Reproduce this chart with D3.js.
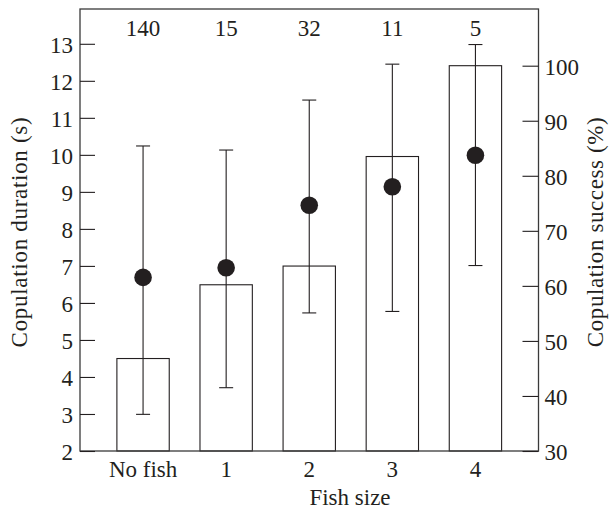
<!DOCTYPE html>
<html>
<head>
<meta charset="utf-8">
<script src="https://cdn.jsdelivr.net/npm/d3@7"></script>
<style>
  html, body { margin: 0; padding: 0; background: #fff; }
  svg { display: block; }
</style>
</head>
<body>
<svg id="chart" width="610" height="511"></svg>
<script>
// Data
const categories = ["No fish", "1", "2", "3", "4"];
const sampleSizes = [140, 15, 32, 11, 5];
const successPct = [46.8, 60.2, 63.6, 83.5, 100];        // bars, right axis
const durationMean = [6.69, 6.95, 8.64, 9.14, 9.99];     // dots, left axis
const durationLow = [2.99, 3.71, 5.73, 5.77, 7.01];
const durationHigh = [10.24, 10.13, 11.48, 12.45, 12.98];
const leftTicks = [2, 3, 4, 5, 6, 7, 8, 9, 10, 11, 12, 13];
const rightTicks = [30, 40, 50, 60, 70, 80, 90, 100];

const W = 610, H = 511;
const margin = { top: 9, right: 71.5, bottom: 60, left: 80 };
const w = W - margin.left - margin.right;
const h = H - margin.top - margin.bottom;
const ink = "#231f20";
const font = "'Liberation Serif', 'Times New Roman', serif";
const fs = 23;

const svg = d3.select("#chart");
const g = svg.append("g").attr("transform", `translate(${margin.left},${margin.top})`);

const x = d3.scaleBand().domain(categories).range([0, w]).paddingInner(0.37).paddingOuter(0.444);
const yL = d3.scaleLinear().domain([2, 13.94]).range([h, 0]);
const yR = d3.scaleLinear().domain([30, 110.3]).range([h, 0]);

// Bars
g.selectAll("rect.bar").data(categories).join("rect")
  .attr("class", "bar")
  .attr("x", d => x(d))
  .attr("width", x.bandwidth())
  .attr("y", (d, i) => yR(successPct[i]))
  .attr("height", (d, i) => h - yR(successPct[i]))
  .attr("fill", "#fff")
  .attr("stroke", ink)
  .attr("stroke-width", 1.1);

// Error bars
const cx = d => x(d) + x.bandwidth() / 2;
const cap = 7;
const eb = g.append("g").attr("stroke", ink).attr("stroke-width", 1.1);
categories.forEach((d, i) => {
  eb.append("line").attr("x1", cx(d)).attr("x2", cx(d))
    .attr("y1", yL(durationLow[i])).attr("y2", yL(durationHigh[i]));
  eb.append("line").attr("x1", cx(d) - cap).attr("x2", cx(d) + cap)
    .attr("y1", yL(durationLow[i])).attr("y2", yL(durationLow[i]));
  eb.append("line").attr("x1", cx(d) - cap).attr("x2", cx(d) + cap)
    .attr("y1", yL(durationHigh[i])).attr("y2", yL(durationHigh[i]));
});

// Dots
g.selectAll("circle.dot").data(categories).join("circle")
  .attr("class", "dot")
  .attr("cx", d => cx(d))
  .attr("cy", (d, i) => yL(durationMean[i]))
  .attr("r", 8.8)
  .attr("fill", ink);

// Frame
g.append("rect").attr("x", 0).attr("y", 0).attr("width", w).attr("height", h)
  .attr("fill", "none").attr("stroke", "#3a3a3a").attr("stroke-width", 1.3);

// Axes
const styleAxis = sel => {
  sel.select(".domain").remove();
  sel.selectAll(".tick line").attr("stroke", ink).attr("stroke-width", 1.1);
  sel.selectAll(".tick text").attr("fill", ink).attr("font-family", font).attr("font-size", fs);
};

g.append("g")
  .call(d3.axisLeft(yL).tickValues(leftTicks).tickSizeInner(-15).tickSizeOuter(0).tickPadding(7))
  .call(styleAxis)
  .call(s => s.selectAll(".tick text").attr("dy", "0.37em"));

g.append("g").attr("transform", `translate(${w},0)`)
  .call(d3.axisRight(yR).tickValues(rightTicks).tickSizeInner(-16).tickSizeOuter(0).tickPadding(6))
  .call(styleAxis)
  .call(s => s.selectAll(".tick text").attr("dy", "0.37em"));

g.append("g").attr("transform", `translate(0,${h})`)
  .call(d3.axisBottom(x).tickSizeInner(0).tickSizeOuter(0).tickPadding(9.5))
  .call(styleAxis);

// Sample sizes
g.selectAll("text.n").data(categories).join("text")
  .attr("class", "n")
  .attr("x", d => cx(d))
  .attr("y", 26.7)
  .attr("text-anchor", "middle")
  .attr("font-family", font).attr("font-size", fs).attr("fill", ink)
  .text((d, i) => sampleSizes[i]);

// Titles
svg.append("text")
  .attr("x", 350).attr("y", 505)
  .attr("text-anchor", "middle")
  .attr("font-family", font).attr("font-size", fs).attr("fill", ink)
  .text("Fish size");

svg.append("text")
  .attr("transform", `translate(27,${margin.top + h / 2 + 2}) rotate(-90)`)
  .attr("text-anchor", "middle")
  .attr("font-family", font).attr("font-size", fs).attr("fill", ink)
  .attr("letter-spacing", 0.7)
  .text("Copulation duration (s)");

svg.append("text")
  .attr("transform", `translate(603,${margin.top + h / 2 + 2}) rotate(-90)`)
  .attr("text-anchor", "middle")
  .attr("font-family", font).attr("font-size", fs).attr("fill", ink)
  .attr("letter-spacing", 0.6)
  .text("Copulation success (%)");
</script>
</body>
</html>
